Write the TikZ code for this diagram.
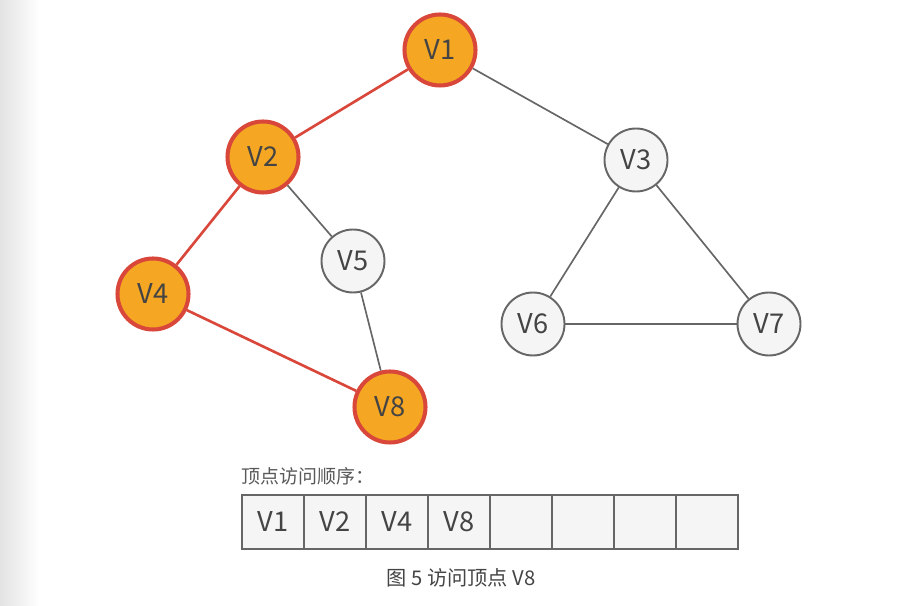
\documentclass[tikz,border=0pt]{standalone}
\usepackage{fontspec}
\setmainfont{Noto Sans CJK SC}
\usepackage{tikz}
\definecolor{visitfill}{HTML}{F5A623}
\definecolor{visitred}{HTML}{D9473A}
\definecolor{edgegray}{HTML}{666666}
\definecolor{nodefill}{HTML}{F5F5F5}
\definecolor{txtgray}{HTML}{444444}

\begin{document}
\begin{tikzpicture}[x=0.2mm, y=-0.2mm,
  vtx/.style={circle, draw=edgegray, line width=1.1pt, fill=nodefill, minimum size=12.6mm,
              inner sep=0pt, text=txtgray, font=\fontsize{15.5}{17}\selectfont},
  seen/.style={vtx, draw=visitred, line width=2.3pt, fill=visitfill, minimum size=14.2mm},
  ed/.style={edgegray, line width=0.95pt},
  trail/.style={visitred, line width=1.5pt},
  cell/.style={draw=edgegray, line width=0.9pt, fill=nodefill, minimum width=12.4mm,
               minimum height=10.8mm, inner sep=0pt, text=txtgray, font=\fontsize{15.5}{17}\selectfont}
]
\useasboundingbox (0,0) rectangle (916,606);
\shade[left color=black!11, right color=white] (0,0) rectangle (40,606);
% ---------------- graph ----------------
\node[seen] (v1) at (440,50) {V1};
\node[seen] (v2) at (263,157) {V2};
\node[vtx]  (v3) at (636,160) {V3};
\node[seen] (v4) at (153,294) {V4};
\node[vtx]  (v5) at (353,261) {V5};
\node[vtx]  (v6) at (533,324) {V6};
\node[vtx]  (v7) at (769,324) {V7};
\node[seen] (v8) at (390,407) {V8};
\draw[trail] (v1) -- (v2);
\draw[trail] (v2) -- (v4);
\draw[trail] (v4) -- (v8);
\draw[ed] (v1) -- (v3);
\draw[ed] (v2) -- (v5);
\draw[ed] (v5) -- (v8);
\draw[ed] (v3) -- (v6);
\draw[ed] (v3) -- (v7);
\draw[ed] (v6) -- (v7);
% ---------------- order ----------------
\node[anchor=west, text=black!65, font=\fontsize{10.8}{12}\selectfont, inner sep=0pt] (ttl) at (241,476) {顶点访问顺序：};
\foreach \i/\t in {1/V1,2/V2,3/V4,4/V8,5/,6/,7/,8/}
  \node[cell] (c\i) at ({273+62*(\i-1)},522) {\t};
\node[text=txtgray, font=\fontsize{11.5}{13}\selectfont] (cap) at (461,578) {图\ 5 访问顶点 V8};
\end{tikzpicture}
\end{document}
